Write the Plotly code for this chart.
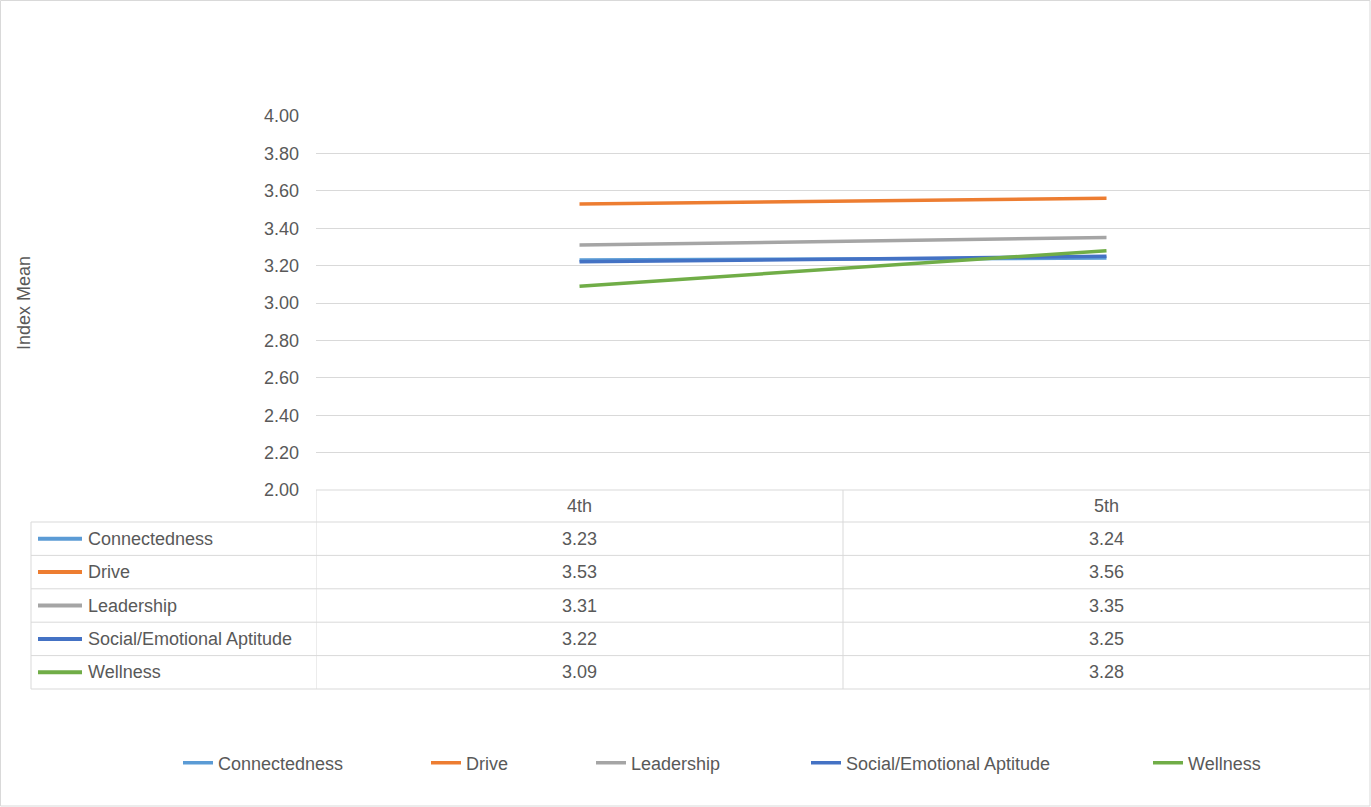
import plotly.graph_objects as go

# ---- data ----
categories = ["4th", "5th"]
series_names = ["Connectedness", "Drive", "Leadership", "Social/Emotional Aptitude", "Wellness"]
connectedness = [3.23, 3.24]
drive = [3.53, 3.56]
leadership = [3.31, 3.35]
social_emotional = [3.22, 3.25]
wellness = [3.09, 3.28]
series_values = [connectedness, drive, leadership, social_emotional, wellness]
colors = ["#5B9BD5", "#ED7D31", "#A5A5A5", "#4472C4", "#70AD47"]
y_tick_vals = [2.0, 2.2, 2.4, 2.6, 2.8, 3.0, 3.2, 3.4, 3.6, 3.8, 4.0]

# ---- geometry ----
W, H = 1371, 807
L, R, T, B = 316, 1, 116, 317
PW = W - L - R
PH = H - T - B
FONT = "Liberation Sans, Arial, sans-serif"
TXT = "#595959"
GRID = "#D9D9D9"
FS = 18


def px_x(p):
    return (p - L) / PW


def px_y(p):
    return (H - B - p) / PH


fig = go.Figure()
legend_x_px = [178, 426, 591, 806, 1148]
for k, (name, vals, col) in enumerate(zip(series_names, series_values, colors)):
    fig.add_trace(go.Scatter(
        x=categories, y=vals, name=name, mode="lines",
        line=dict(color=col, width=3.5),
        legend="legend" if k == 0 else f"legend{k + 1}",
    ))

shapes = []
annotations = []

# table horizontal lines
row_edges_px = [522, 555.4, 588.8, 622.2, 655.6, 689]
shapes.append(dict(type="line", xref="paper", yref="paper", x0=0, x1=1,
                   y0=0, y1=0, line=dict(color=GRID, width=1)))
for e in row_edges_px:
    shapes.append(dict(type="line", xref="paper", yref="paper", x0=px_x(31), x1=1,
                       y0=px_y(e), y1=px_y(e), line=dict(color=GRID, width=1)))
# table vertical lines at category boundaries
for xb in [-0.5, 0.5, 1.5]:
    shapes.append(dict(type="line", xref="x", yref="paper", x0=xb, x1=xb,
                       y0=0, y1=px_y(689), line=dict(color=GRID, width=1)))
shapes.append(dict(type="line", xref="paper", yref="paper", x0=px_x(31), x1=px_x(31),
                   y0=px_y(522), y1=px_y(689), line=dict(color=GRID, width=1)))
# outer chart border
shapes.append(dict(type="rect", xref="paper", yref="paper", x0=px_x(0.5), x1=px_x(1370),
                   y0=px_y(806), y1=px_y(0.5), line=dict(color=GRID, width=1)))

# header row
for c in categories:
    annotations.append(dict(x=c, xref="x", y=px_y(506), yref="paper", text=c,
                            yanchor="middle", showarrow=False,
                            font=dict(family=FONT, size=FS, color=TXT)))
# data rows
for i, (name, vals, col) in enumerate(zip(series_names, series_values, colors)):
    yc = px_y((row_edges_px[i] + row_edges_px[i + 1]) / 2)
    shapes.append(dict(type="line", xref="paper", yref="paper", x0=px_x(38), x1=px_x(82),
                       y0=yc, y1=yc, line=dict(color=col, width=4)))
    annotations.append(dict(x=px_x(86), xref="paper", y=yc, yref="paper", text=name,
                            xanchor="left", yanchor="middle", showarrow=False,
                            font=dict(family=FONT, size=FS, color=TXT)))
    for c, v in zip(categories, vals):
        annotations.append(dict(x=c, xref="x", y=yc, yref="paper", text=f"{v:.2f}",
                                yanchor="middle", showarrow=False,
                                font=dict(family=FONT, size=FS, color=TXT)))

legends = {}
for k, lx in enumerate(legend_x_px):
    key = "legend" if k == 0 else f"legend{k + 1}"
    legends[key] = dict(orientation="h", x=px_x(lx), xanchor="left", y=px_y(763),
                        yanchor="middle", bgcolor="rgba(0,0,0,0)",
                        font=dict(family=FONT, size=FS, color=TXT))

fig.update_layout(
    width=W, height=H,
    margin=dict(l=L, r=R, t=T, b=B),
    paper_bgcolor="white", plot_bgcolor="white",
    font=dict(family=FONT, size=FS, color=TXT),
    showlegend=True,
    xaxis=dict(range=[-0.5, 1.5], showticklabels=False, showgrid=False, zeroline=False,
               showline=False, ticks="", automargin=False, fixedrange=True),
    yaxis=dict(range=[2, 4], tickvals=y_tick_vals, tickformat=".2f", showgrid=True,
               gridcolor=GRID, gridwidth=1, zeroline=False, showline=False, ticks="",
               ticklabelstandoff=16, automargin=False,
               tickfont=dict(family=FONT, size=FS, color=TXT),
               title=dict(text="Index Mean", standoff=228,
                          font=dict(family=FONT, size=FS, color=TXT))),
    shapes=shapes,
    annotations=annotations,
    **legends,
)

fig.write_html(
    "out.html",
    config={"displayModeBar": False},
    post_script="document.body.style.margin='0px';document.body.style.overflow='hidden';",
)
